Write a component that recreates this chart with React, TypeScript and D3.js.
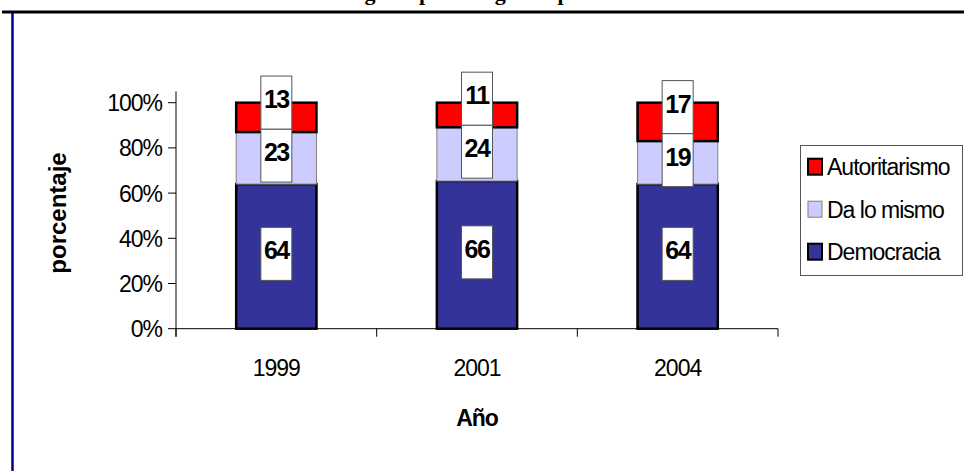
import React, { useEffect, useRef } from 'react';
import * as d3 from 'd3';

const years = ['1999', '2001', '2004'];
const seriesNames = ['Democracia', 'Da lo mismo', 'Autoritarismo'];
const democracia = [64, 66, 64];
const daLoMismo = [23, 24, 19];
const autoritarismo = [13, 11, 17];
const yTicks = [0, 0.2, 0.4, 0.6, 0.8, 1];

const colors = ['#333399', '#CCCCFF', '#FF0000'];
const strokes = ['#000000', '#808080', '#000000'];
const strokeWidths = [2.5, 1, 2.5];

const SANS = '"Liberation Sans", Arial, sans-serif';

const App: React.FC = () => {
    const ref = useRef<SVGSVGElement>(null);

    useEffect(() => {
        if (!ref.current) return;
        const svg = d3.select(ref.current);
        svg.selectAll('*').remove();

        const width = 964;
        const height = 471;

        // frame lines of the page the chart was cut from (title is cut at the top)
        svg.append('text')
            .attr('x', 430)
            .attr('y', 0)
            .attr('text-anchor', 'middle')
            .attr('font-family', '"Liberation Serif", "Times New Roman", serif')
            .attr('font-weight', 'bold')
            .attr('font-size', 22)
            .text('Preferencia según tipo de régimen político');
        svg.append('line')
            .attr('x1', 2).attr('x2', width)
            .attr('y1', 12).attr('y2', 12)
            .attr('stroke', '#000').attr('stroke-width', 3);
        svg.append('line')
            .attr('x1', 12.5).attr('x2', 12.5)
            .attr('y1', 13).attr('y2', height)
            .attr('stroke', '#00008B').attr('stroke-width', 2.5);

        // data table
        const table = years.map((year, i) => ({
            year,
            Democracia: democracia[i],
            'Da lo mismo': daLoMismo[i],
            Autoritarismo: autoritarismo[i],
        }));
        const stacked = d3.stack<any>()
            .keys(seriesNames)
            .offset(d3.stackOffsetExpand)(table);

        // scales
        const x = d3.scaleBand()
            .domain(years)
            .range([176, 778])
            .paddingInner(0.6)
            .paddingOuter(0.3);
        const y = d3.scaleLinear().domain([0, 1]).range([328.7, 102.7]);

        // y axis
        const yAxis = svg.append('g');
        yAxis.append('line')
            .attr('x1', 176).attr('x2', 176)
            .attr('y1', y(1.05)).attr('y2', y(0) + 8)
            .attr('stroke', '#000').attr('stroke-width', 1);
        yAxis.selectAll('.ytick')
            .data(yTicks)
            .enter()
            .append('line')
            .attr('x1', 168).attr('x2', 176)
            .attr('y1', d => y(d)).attr('y2', d => y(d))
            .attr('stroke', '#000');
        yAxis.selectAll('.ylabel')
            .data(yTicks)
            .enter()
            .append('text')
            .attr('x', 162)
            .attr('y', d => y(d) + 8.5)
            .attr('text-anchor', 'end')
            .attr('font-family', SANS)
            .attr('font-size', 23)
            .attr('letter-spacing', -1)
            .text(d => d3.format('.0%')(d));

        // x axis
        const xAxis = svg.append('g');
        xAxis.append('line')
            .attr('x1', 176).attr('x2', 778)
            .attr('y1', y(0)).attr('y2', y(0))
            .attr('stroke', '#000');
        const bounds = years.map((_, i) => 176 + i * x.step()).concat([778]);
        xAxis.selectAll('.xtick')
            .data(bounds)
            .enter()
            .append('line')
            .attr('x1', d => d).attr('x2', d => d)
            .attr('y1', y(0)).attr('y2', y(0) + 8)
            .attr('stroke', '#000');
        xAxis.selectAll('.xlabel')
            .data(years)
            .enter()
            .append('text')
            .attr('x', d => (x(d) as number) + x.bandwidth() / 2)
            .attr('y', 376)
            .attr('text-anchor', 'middle')
            .attr('font-family', SANS)
            .attr('font-size', 23)
            .attr('letter-spacing', -1)
            .text(d => d);

        // axis titles
        svg.append('text')
            .attr('transform', 'translate(66, 213) rotate(-90)')
            .attr('text-anchor', 'middle')
            .attr('font-family', SANS)
            .attr('font-weight', 'bold')
            .attr('font-size', 24)
            .text('porcentaje');
        svg.append('text')
            .attr('x', 477)
            .attr('y', 426)
            .attr('text-anchor', 'middle')
            .attr('font-family', SANS)
            .attr('font-weight', 'bold')
            .attr('font-size', 23)
            .attr('letter-spacing', -1)
            .text('Año');

        // bars
        stacked.forEach((layer, si) => {
            svg.append('g')
                .selectAll('rect')
                .data(layer)
                .enter()
                .append('rect')
                .attr('x', d => x(d.data.year) as number)
                .attr('y', d => y(d[1]))
                .attr('width', x.bandwidth())
                .attr('height', d => y(d[0]) - y(d[1]))
                .attr('fill', colors[si])
                .attr('stroke', strokes[si])
                .attr('stroke-width', strokeWidths[si]);
        });

        // labels: centered on the segment, pushed up when crowded
        const labels: { cx: number; cy: number; value: number }[] = [];
        years.forEach((year, i) => {
            let prev = Infinity;
            stacked.forEach(layer => {
                const seg = layer[i];
                let cy = (y(seg[0]) + y(seg[1])) / 2 - 6;
                cy = Math.min(cy, prev - 53);
                prev = cy;
                labels.push({
                    cx: (x(year) as number) + x.bandwidth() / 2,
                    cy,
                    value: (seg.data as any)[layer.key],
                });
            });
        });
        const lg = svg.append('g');
        const boxW = 31;
        lg.selectAll('rect')
            .data(labels)
            .enter()
            .append('rect')
            .attr('x', d => d.cx - boxW / 2)
            .attr('y', d => d.cy - 23)
            .attr('width', boxW)
            .attr('height', 53)
            .attr('fill', '#fff')
            .attr('stroke', '#555')
            .attr('stroke-width', 1);
        lg.selectAll('text')
            .data(labels)
            .enter()
            .append('text')
            .attr('x', d => d.cx)
            .attr('y', d => d.cy + 9)
            .attr('text-anchor', 'middle')
            .attr('font-family', SANS)
            .attr('font-weight', 'bold')
            .attr('font-size', 25)
            .attr('letter-spacing', -1.5)
            .text(d => d.value);

        // legend
        const legend = svg.append('g');
        legend.append('rect')
            .attr('x', 800.5).attr('y', 145.5)
            .attr('width', 162).attr('height', 130)
            .attr('fill', '#fff')
            .attr('stroke', '#555');
        const legendOrder = [2, 1, 0];
        legendOrder.forEach((si, row) => {
            const cy = 166.7 + row * 42.5;
            legend.append('rect')
                .attr('x', 808).attr('y', cy - 8)
                .attr('width', 14).attr('height', 16)
                .attr('fill', colors[si])
                .attr('stroke', strokes[si])
                .attr('stroke-width', si === 1 ? 1 : 2);
            legend.append('text')
                .attr('x', 827)
                .attr('y', cy + 8.5)
                .attr('font-family', SANS)
                .attr('font-size', 23)
                .attr('letter-spacing', -1)
                .text(seriesNames[si]);
        });
    }, []);

    return (
        <svg
            ref={ref}
            width={964}
            height={471}
            style={{ position: 'absolute', left: 0, top: 0, background: '#fff' }}
        />
    );
};

export default App;
